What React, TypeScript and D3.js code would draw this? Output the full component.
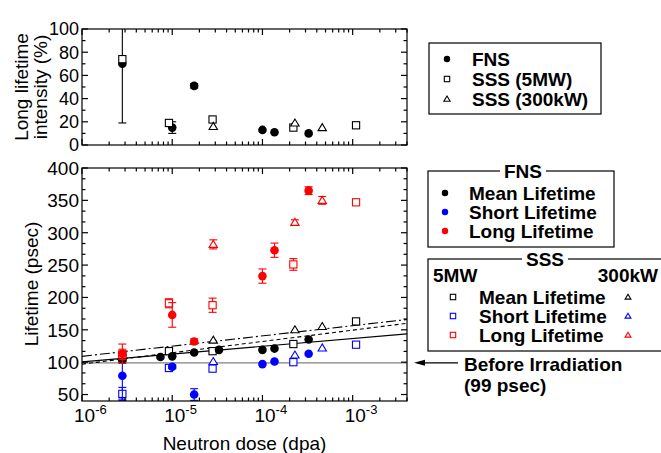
import * as d3 from "d3";

// FNS (filled circles)
const fnsDose = [2.8e-6, 7.4e-6, 1.0e-5, 1.75e-5, 3.3e-5, 1.0e-4, 1.36e-4, 3.25e-4];
const fnsMean = [104, 108, 109, 115, 119, 119, 121, 135];
const fnsShort = [79, null, 93, 50, null, 97, 101, 113];
const fnsShortErr = [36, 0, 3, 9, 0, 0, 0, 0];
const fnsLong = [113, null, 173, 132, null, 233, 273, 365];
const fnsLongErr = [15, 0, 19, 4, 0, 11, 11, 6];
const fnsIntensity = [70, null, 15, 51, null, 13, 11, 10];
const fnsIntensityErr = [51, 0, 5, 2, 0, 0, 0, 0];

// SSS 5MW (open squares)
const sss5Dose = [2.8e-6, 9.2e-6, 2.8e-5, 2.2e-4, 1.09e-3];
const sss5Mean = [106, 117, 117, 128, 163];
const sss5Short = [51, 91, 90, 100, 127];
const sss5ShortErr = [10, 0, 0, 0, 0];
const sss5Long = [112, 191, 188, 251, 347];
const sss5LongErr = [8, 7, 11, 9, 0];
const sss5Intensity = [74, 19, 22, 15, 17];

// SSS 300kW (open triangles)
const sss300Dose = [2.85e-5, 2.29e-4, 4.6e-4];
const sss300Mean = [134, 150, 155];
const sss300Short = [101, 111, 122];
const sss300Long = [282, 316, 350];
const sss300LongErr = [7, 4, 6];
const sss300Intensity = [16, 19, 15];

// linear-in-log fits of the mean lifetime: value at 1e-6 and slope per decade
const fitNames = ["FNS", "SSS 5MW", "SSS 300kW"];
const fitIntercepts = [100.5, 97, 109];
const fitSlopes = [12, 17.5, 15.8];
const fitDashes = ["", "4,3", "10,3,2,3"];

const beforeIrradiation = 99;

const intensityTicks = [0, 20, 40, 60, 80, 100];
const lifetimeTicks = [50, 100, 150, 200, 250, 300, 350, 400];
const decadeExps = [-6, -5, -4, -3];

const FONT = "'Liberation Sans', Arial, Helvetica, sans-serif";
const RED = "#ff0000";
const BLUE = "#0000ff";
const FS = 19;

const x = d3.scaleLog().domain([1e-6, 4e-3]).range([82, 407]);
const yInt = d3.scaleLinear().domain([0, 100]).range([145, 29]);
const yLife = d3.scaleLinear().domain([40, 400]).range([401, 168]);

type Shape = "circle" | "square" | "triangle";

function Marker({ shape, cx, cy, color, s = 1 }: { shape: Shape; cx: number; cy: number; color: string; s?: number }) {
  if (shape === "circle") return <circle cx={cx} cy={cy} r={4.3 * s} fill={color} />;
  if (shape === "square") {
    const h = 3.6 * s;
    return <rect x={cx - h} y={cy - h} width={2 * h} height={2 * h} fill="white" stroke={color} strokeWidth={1.1} />;
  }
  const h = 4 * s;
  const pts = [[cx, cy - h], [cx - h * 1.05, cy + h * 0.75], [cx + h * 1.05, cy + h * 0.75]];
  return <polygon points={pts.map((p) => p.join(",")).join(" ")} fill="white" stroke={color} strokeWidth={1.1} />;
}

function ErrorBar({ cx, y0, y1, color }: { cx: number; y0: number; y1: number; color: string }) {
  return (
    <g stroke={color} strokeWidth={1.1}>
      <line x1={cx} x2={cx} y1={y0} y2={y1} />
      <line x1={cx - 4} x2={cx + 4} y1={y0} y2={y0} />
      <line x1={cx - 4} x2={cx + 4} y1={y1} y2={y1} />
    </g>
  );
}

function Series({ dose, vals, errs, y, shape, color }: {
  dose: number[]; vals: (number | null)[]; errs?: number[]; y: d3.ScaleLinear<number, number>; shape: Shape; color: string;
}) {
  return (
    <g>
      {vals.map((v, i) => {
        if (v == null) return null;
        const e = errs ? errs[i] : 0;
        return (
          <g key={i}>
            {e > 0 && <ErrorBar cx={x(dose[i])} y0={y(v + e)} y1={y(v - e)} color={color} />}
            <Marker shape={shape} cx={x(dose[i])} cy={y(v)} color={color} />
          </g>
        );
      })}
    </g>
  );
}

function logTicks() {
  const out: { v: number; major: boolean }[] = [];
  decadeExps.forEach((e) => {
    for (let k = 1; k <= 9; k++) {
      const v = k * Math.pow(10, e);
      if (v >= 1e-6 && v <= 4e-3) out.push({ v, major: k === 1 });
    }
  });
  return out;
}

function Frame({ yScale, majors, minors, showX, labelSize }: {
  yScale: d3.ScaleLinear<number, number>; majors: number[]; minors: number[]; showX: boolean; labelSize: number;
}) {
  const [x0, x1] = x.range();
  const [yb, yt] = yScale.range();
  const lt = logTicks();
  return (
    <g stroke="black" strokeWidth={1.2} fill="none">
      <rect x={x0} y={yt} width={x1 - x0} height={yb - yt} />
      {lt.map((t, i) => {
        const len = t.major ? 6 : 3.5;
        const px = x(t.v);
        return (
          <g key={i}>
            <line x1={px} x2={px} y1={yb} y2={yb - len} />
            <line x1={px} x2={px} y1={yt} y2={yt + len} />
          </g>
        );
      })}
      {majors.map((v) => (
        <g key={"M" + v}>
          <line x1={x0} x2={x0 + 6} y1={yScale(v)} y2={yScale(v)} />
          <line x1={x1} x2={x1 - 6} y1={yScale(v)} y2={yScale(v)} />
        </g>
      ))}
      {minors.map((v, i) => (
        <g key={"m" + i}>
          <line x1={x0} x2={x0 + 3.5} y1={yScale(v)} y2={yScale(v)} />
          <line x1={x1} x2={x1 - 3.5} y1={yScale(v)} y2={yScale(v)} />
        </g>
      ))}
      <g stroke="none" fill="black" fontFamily={FONT} fontSize={labelSize} textAnchor="end">
        {majors.map((v) => (
          <text key={"l" + v} x={x0 - 3} y={yScale(v)} dy="0.36em">{v}</text>
        ))}
      </g>
      {showX && (
        <g stroke="none" fill="black" fontFamily={FONT}>
          {decadeExps.map((e) => (
            <text key={e} x={x(Math.pow(10, e)) - 8} y={422} fontSize={FS}>
              10<tspan dy={-8} fontSize={13}>{e}</tspan>
            </text>
          ))}
        </g>
      )}
    </g>
  );
}

function Legend() {
  const bold = { fontFamily: FONT, fontSize: FS, fontWeight: 700 } as const;
  const yb = yLife(beforeIrradiation);
  return (
    <g>
      {/* Legend 1 */}
      <rect x={429} y={43} width={172} height={71} fill="white" stroke="black" strokeWidth={1.2} />
      {(["circle", "square", "triangle"] as Shape[]).map((s, i) => (
        <g key={s}>
          <Marker shape={s} cx={447} cy={59 + i * 20} color="black" s={0.75} />
          <text x={472} y={59 + i * 20} dy="0.36em" {...bold}>{["FNS", "SSS (5MW)", "SSS (300kW)"][i]}</text>
        </g>
      ))}
      {/* Legend FNS */}
      <rect x={428} y={171} width={186} height={76} fill="white" stroke="black" strokeWidth={1.2} />
      <rect x={500} y={163} width={46} height={16} fill="white" />
      <text x={523} y={171} dy="0.36em" textAnchor="middle" {...bold}>FNS</text>
      {["black", BLUE, RED].map((c, i) => (
        <g key={c}>
          <Marker shape="circle" cx={445} cy={193 + i * 19} color={c} s={0.75} />
          <text x={469} y={193 + i * 19} dy="0.36em" {...bold}>{["Mean Lifetime", "Short Lifetime", "Long Lifetime"][i]}</text>
        </g>
      ))}
      {/* Legend SSS */}
      <rect x={428} y={259} width={240} height={92} fill="white" stroke="black" strokeWidth={1.2} />
      <rect x={522} y={251} width={46} height={16} fill="white" />
      <text x={545} y={259} dy="0.36em" textAnchor="middle" {...bold}>SSS</text>
      <text x={433} y={282} {...bold}>5MW</text>
      <text x={658} y={282} textAnchor="end" {...bold}>300kW</text>
      {["black", BLUE, RED].map((c, i) => (
        <g key={c}>
          <Marker shape="square" cx={453} cy={297 + i * 19} color={c} s={0.75} />
          <text x={479} y={297 + i * 19} dy="0.36em" {...bold}>{["Mean Lifetime", "Short Lifetime", "Long Lifetime"][i]}</text>
          <Marker shape="triangle" cx={628} cy={297 + i * 19} color={c} s={0.7} />
        </g>
      ))}
      {/* Before irradiation arrow */}
      <line x1={420} x2={458} y1={yb} y2={yb} stroke="black" strokeWidth={1.2} />
      <polygon points={`414,${yb} 425,${yb - 3} 425,${yb + 3}`} fill="black" />
      <text x={464} y={371} {...bold}>Before Irradiation</text>
      <text x={464} y={392} {...bold}>(99 psec)</text>
    </g>
  );
}

export default function App() {
  const [x0, x1] = x.range();
  const lifeMinors: number[] = [];
  for (let v = 50; v < 400; v += 50) lifeMinors.push(v + 50 / 3, v + 100 / 3);
  const intMinors = [10, 30, 50, 70, 90];
  const lx0 = Math.log10(x.domain()[0]);
  const lx1 = Math.log10(x.domain()[1]);

  return (
    <svg width={661} height={453} style={{ position: "absolute", left: 0, top: 0, background: "white" }}>
      <defs>
        <clipPath id="clipTop"><rect x={x0} y={29} width={x1 - x0} height={116} /></clipPath>
        <clipPath id="clipLow"><rect x={x0} y={168} width={x1 - x0} height={233} /></clipPath>
      </defs>

      {/* Top panel: long lifetime intensity */}
      <g clipPath="url(#clipTop)">
        <Series dose={fnsDose} vals={fnsIntensity} errs={fnsIntensityErr} y={yInt} shape="circle" color="black" />
        <Series dose={sss5Dose} vals={sss5Intensity} y={yInt} shape="square" color="black" />
        <Series dose={sss300Dose} vals={sss300Intensity} y={yInt} shape="triangle" color="black" />
      </g>
      <Frame yScale={yInt} majors={intensityTicks} minors={intMinors} showX={false} labelSize={18} />

      {/* Bottom panel: lifetimes */}
      <g clipPath="url(#clipLow)">
        <line x1={x0} x2={x1} y1={yLife(beforeIrradiation)} y2={yLife(beforeIrradiation)} stroke="#808080" strokeWidth={1.2} />
        {fitIntercepts.map((a, i) => (
          <line
            key={fitNames[i]}
            x1={x0}
            x2={x1}
            y1={yLife(a + fitSlopes[i] * (lx0 + 6))}
            y2={yLife(a + fitSlopes[i] * (lx1 + 6))}
            stroke="black"
            strokeWidth={1.1}
            strokeDasharray={fitDashes[i] || undefined}
          />
        ))}
        <Series dose={sss5Dose} vals={sss5Short} errs={sss5ShortErr} y={yLife} shape="square" color={BLUE} />
        <Series dose={sss300Dose} vals={sss300Short} y={yLife} shape="triangle" color={BLUE} />
        <Series dose={fnsDose} vals={fnsShort} errs={fnsShortErr} y={yLife} shape="circle" color={BLUE} />
        <Series dose={sss5Dose} vals={sss5Mean} y={yLife} shape="square" color="black" />
        <Series dose={sss300Dose} vals={sss300Mean} y={yLife} shape="triangle" color="black" />
        <Series dose={fnsDose} vals={fnsMean} y={yLife} shape="circle" color="black" />
        <Series dose={sss5Dose} vals={sss5Long} errs={sss5LongErr} y={yLife} shape="square" color={RED} />
        <Series dose={sss300Dose} vals={sss300Long} errs={sss300LongErr} y={yLife} shape="triangle" color={RED} />
        <Series dose={fnsDose} vals={fnsLong} errs={fnsLongErr} y={yLife} shape="circle" color={RED} />
      </g>
      <Frame yScale={yLife} majors={lifetimeTicks} minors={lifeMinors} showX={true} labelSize={FS} />

      {/* Axis titles */}
      <g fontFamily={FONT} fontSize={FS} fill="black" textAnchor="middle">
        <text transform="translate(28,87) rotate(-90)">Long lifetime</text>
        <text transform="translate(47,87) rotate(-90)">intensity (%)</text>
        <text transform="translate(38,284) rotate(-90)">Lifetime (psec)</text>
        <text x={(x0 + x1) / 2} y={450}>Neutron dose (dpa)</text>
      </g>

      <Legend />
    </svg>
  );
}
